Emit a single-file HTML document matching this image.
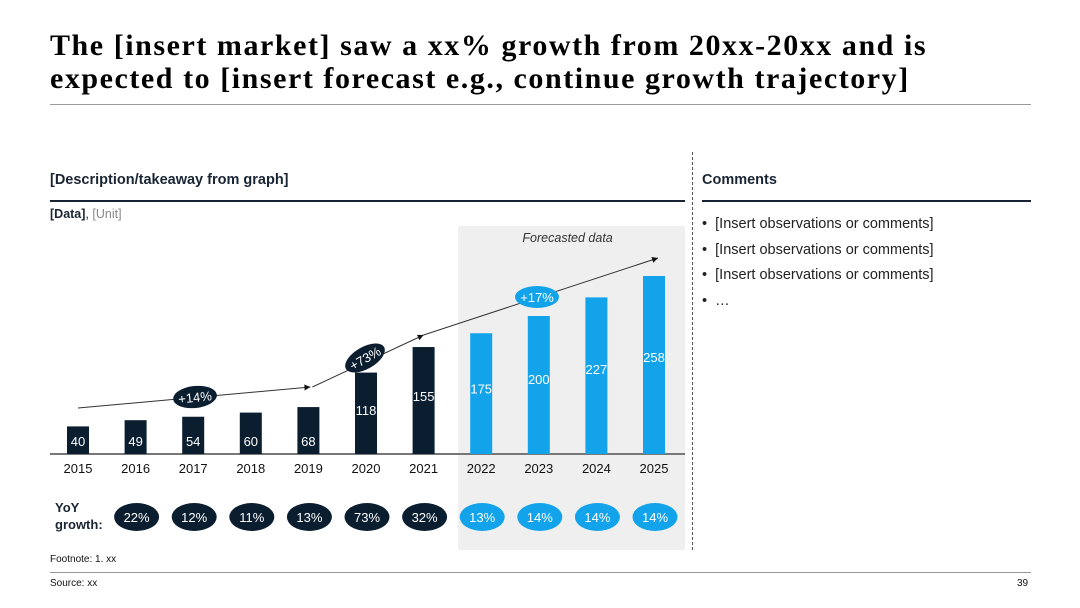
<!DOCTYPE html>
<html><head><meta charset="utf-8">
<style>
body{margin:0;width:1080px;height:608px;background:#fff;position:relative;overflow:hidden;font-family:"Liberation Sans",Arial,sans-serif;color:#111}
.abs{position:absolute}
</style></head><body>
<div class="abs" style="left:50px;top:29px;width:1030px;white-space:nowrap;font-family:'Liberation Serif',serif;font-weight:bold;font-size:30px;letter-spacing:1.55px;line-height:33px;color:#000">The [insert market] saw a xx% growth from 20xx-20xx and is<br>expected to [insert forecast e.g., continue growth trajectory]</div>
<div class="abs" style="left:50px;top:104px;width:981px;height:1px;background:#999"></div>
<div class="abs" style="left:50px;top:172px;font-size:14.5px;font-weight:bold;color:#1a2533">[Description/takeaway from graph]</div>
<div class="abs" style="left:50px;top:200px;width:635px;height:1.5px;background:#1a2533"></div>
<div class="abs" style="left:50px;top:207px;font-size:12.5px"><b style="color:#1a2533">[Data]</b>, <span style="color:#888">[Unit]</span></div>
<div class="abs" style="left:692px;top:152px;height:398px;border-left:1.5px dashed #555"></div>
<div class="abs" style="left:702px;top:172px;font-size:14.5px;font-weight:bold;color:#1a2533">Comments</div>
<div class="abs" style="left:702px;top:200px;width:329px;height:1.5px;background:#1a2533"></div>
<div class="abs" style="left:702px;top:212px;font-size:14.5px;line-height:25.5px;color:#222">
<div>•&nbsp;&nbsp;[Insert observations or comments]</div>
<div>•&nbsp;&nbsp;[Insert observations or comments]</div>
<div>•&nbsp;&nbsp;[Insert observations or comments]</div>
<div>•&nbsp;&nbsp;…</div>
</div>
<div class="abs" style="left:50px;top:554px;font-size:10px">Footnote: 1. xx</div>
<div class="abs" style="left:50px;top:572px;width:981px;height:1px;background:#999"></div>
<div class="abs" style="left:50px;top:578px;font-size:10px">Source: xx</div>
<div class="abs" style="left:1017px;top:578px;font-size:10px">39</div>

<svg class="abs" id="chart" style="left:0;top:0" width="1080" height="608" font-family="Liberation Sans, Arial, sans-serif"></svg>
<script>
const years=["2015","2016","2017","2018","2019","2020","2021","2022","2023","2024","2025"];
const values=[40,49,54,60,68,118,155,175,200,227,258];
const growth=["22%","12%","11%","13%","73%","32%","13%","14%","14%","14%"];
const forecastStart=7;
const NS="http://www.w3.org/2000/svg";
const svg=document.getElementById('chart');
const x0=78,step=57.6,base=454,scale=0.69,bw=22;
const X=i=>x0+i*step, Y=v=>base-v*scale;
const DARK="#0b1e30",BLUE="#12a3ea";
function el(t,a,p){const e=document.createElementNS(NS,t);for(const k in a)e.setAttribute(k,a[k]);(p||svg).appendChild(e);return e;}
const bg=el('rect',{x:X(forecastStart)-23,y:226,width:X(years.length-1)+31-(X(forecastStart)-23),height:324,fill:"#efefef"});


const ft=el('text',{x:(X(forecastStart)+X(years.length-1))/2,y:242,'text-anchor':'middle','font-size':12.5,'font-style':'italic',fill:'#333'});ft.textContent="Forecasted data";


const ax=el('line',{x1:50,x2:685,y1:base,y2:base,stroke:'#777','stroke-width':2});


el('defs',{}).innerHTML='<marker id="ar" markerWidth="8" markerHeight="8" refX="6" refY="3" orient="auto"><path d="M0,0 L6,3 L0,6z" fill="#111"/></marker>';
values.forEach((v,i)=>{
 const c=i>=forecastStart?BLUE:DARK;
 const r=el('rect',{x:X(i)-bw/2,y:Y(v),width:bw,height:v*scale,fill:c});
 
 
 const t=el('text',{x:X(i),y:i<5?base-8:Y(v)+v*scale*0.45+6,'text-anchor':'middle','font-size':13,fill:'#fff'});t.textContent=v;
 
 
 const yl=el('text',{x:X(i),y:473,'text-anchor':'middle','font-size':13,fill:'#111'});yl.textContent=years[i];
 
 
});
growth.forEach((gv,k)=>{
 const i=k+1;
 const c=i>=forecastStart?BLUE:DARK;
 const o=el('ellipse',{cx:X(i)+1,cy:517,rx:22.5,ry:14,fill:c});
 
 
 const g=el('text',{x:X(i)+1,y:522,'text-anchor':'middle','font-size':13,fill:'#fff'});g.textContent=gv;
 
 
});
const yoy=el('text',{x:55,y:512,'font-size':13,'font-weight':'bold',fill:'#1a2533'});yoy.innerHTML='<tspan x="55">YoY</tspan><tspan x="55" dy="17">growth:</tspan>';


[[X(0),408,X(4)+2,387],[X(4)+4,387,X(6),335],[X(6),335,X(10)+4,258]].forEach((s,k)=>{
 const l=el('line',{x1:s[0],y1:s[1],x2:s[2],y2:s[3],stroke:'#333','stroke-width':1,'marker-end':'url(#ar)'});
 
 
});
[[195,397,-6,DARK,"+14%"],[365,358,-30,DARK,"+73%"],[537,297,0,BLUE,"+17%"]].forEach((b,k)=>{
 const g=el('g',{transform:`translate(${b[0]},${b[1]}) rotate(${b[2]})`});
 
 
 el('ellipse',{cx:0,cy:0,rx:22,ry:11,fill:b[3]},g);
 const t=el('text',{x:0,y:5,'text-anchor':'middle','font-size':13,fill:'#fff'},g);t.textContent=b[4];
});
</script>
</body></html>
